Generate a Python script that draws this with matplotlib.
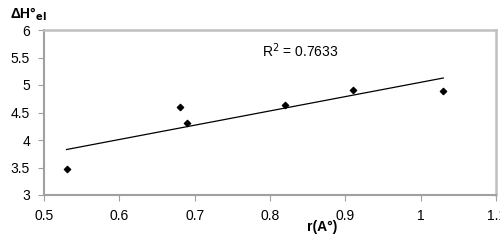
import matplotlib
matplotlib.use("Agg")
import matplotlib.pyplot as plt
import numpy as np

r_values = [0.53, 0.68, 0.69, 0.82, 0.91, 1.03]
dH_values = [3.47, 4.60, 4.31, 4.63, 4.91, 4.89]
x_ticks = [0.5, 0.6, 0.7, 0.8, 0.9, 1.0, 1.1]
x_tick_labels = ["0.5", "0.6", "0.7", "0.8", "0.9", "1", "1.1"]
y_ticks = [3, 3.5, 4, 4.5, 5, 5.5, 6]
y_tick_labels = ["3", "3.5", "4", "4.5", "5", "5.5", "6"]
r2_label = "R$^2$ = 0.7633"

plt.rcParams['font.family'] = ['Liberation Sans', 'DejaVu Sans']

fig = plt.figure(figsize=(5.0, 2.42), dpi=100)
ax = fig.add_axes([44/500, 1-195/242, (496-44)/500, (195-30)/242])

x = np.array(r_values)
y = np.array(dH_values)
coef = np.polyfit(x, y, 1)
xl = np.array([x.min(), x.max()])
ax.plot(xl, np.polyval(coef, xl), color='black', lw=0.9)
ax.scatter(x, y, marker='D', s=10, color='black', zorder=3)

ax.set_xlim(0.5, 1.1)
ax.set_ylim(3, 6)
ax.set_xticks(x_ticks)
ax.set_xticklabels(x_tick_labels, fontsize=10)
ax.set_yticks(y_ticks)
ax.set_yticklabels(y_tick_labels, fontsize=10)
ax.tick_params(direction='out', length=4, width=0.8, color='#a0a0a0', pad=6)

for s in ['left', 'bottom']:
    ax.spines[s].set_color('#a0a0a0')
    ax.spines[s].set_linewidth(1.5)
for s in ['top', 'right']:
    ax.spines[s].set_color('#c0c0c0')
    ax.spines[s].set_linewidth(1.8)

ax.text(0.79, 5.62, r2_label, fontsize=10, ha='left', va='center')
fig.text(322/500, 1-227/242, "r(A°)", fontsize=10, fontweight='bold', ha='center', va='center')
fig.text(10/500, 1-14/242, "ΔH°$_{\\mathbf{el}}$", fontsize=10, fontweight='bold', ha='left', va='center')

fig.savefig("out.png", dpi=100)
